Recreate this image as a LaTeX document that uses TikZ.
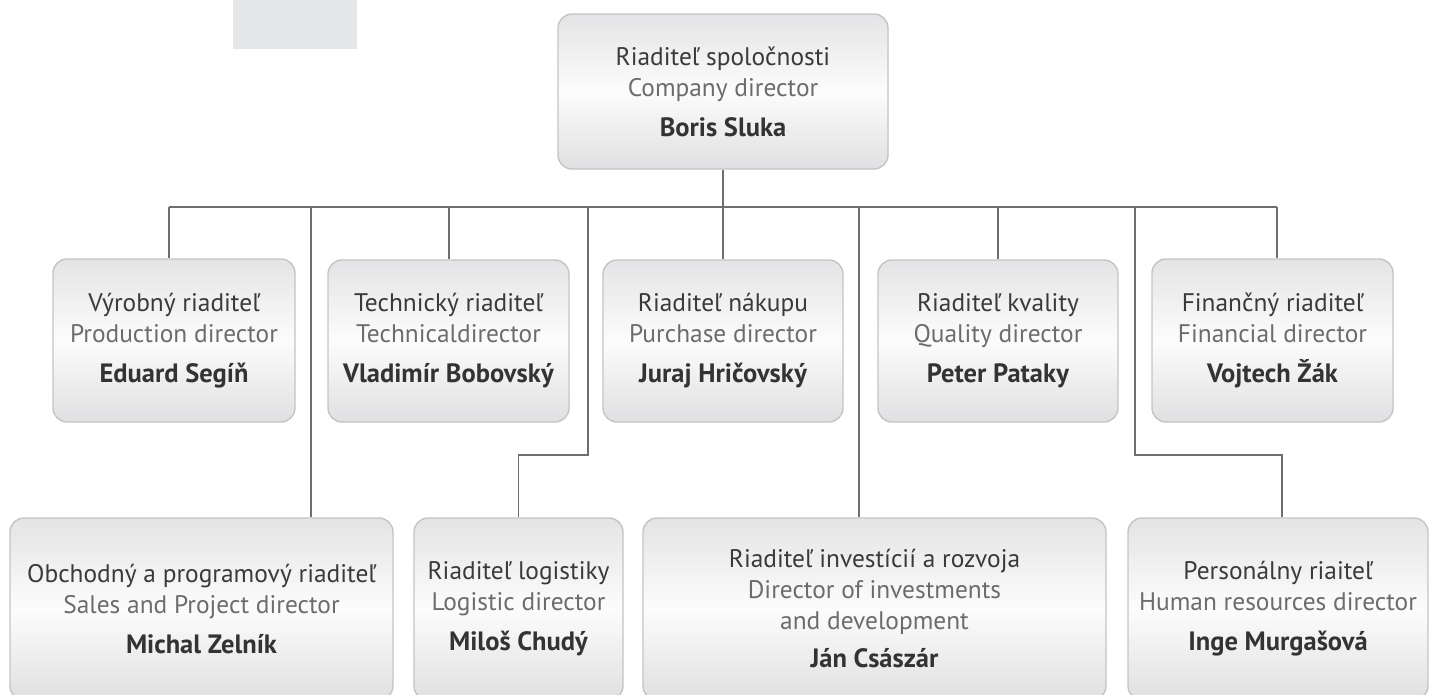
\documentclass[tikz,border=0pt]{standalone}
\usepackage{fontspec}
\setmainfont{PT Sans}
\definecolor{boxborder}{HTML}{C4C4C6}
\definecolor{boxtop}{HTML}{E4E4E6}
\definecolor{boxbot}{HTML}{E0E0E2}
\definecolor{boxmid}{HTML}{FCFCFC}
\definecolor{conn}{HTML}{6E6E70}
\definecolor{tone}{HTML}{3A3A3C}
\definecolor{ttwo}{HTML}{6C6C6E}
\definecolor{tthree}{HTML}{333333}
\definecolor{tabgray}{HTML}{E5E6E8}
\newcommand{\namefont}{\fontsize{26.5}{31}\selectfont\bfseries}
\newcommand{\orgtext}[3]{{\color{tone}#1}\\{\color{ttwo}#2}\\[9pt]{\namefont\color{tthree}#3}}
\tikzset{
  orgbox/.style={draw=boxborder, line width=1.4pt, rounded corners=14pt,
    top color=boxtop, bottom color=boxbot, middle color=boxmid,
    align=center, inner sep=0pt, font=\fontsize{25.4}{31}\selectfont},
  orgline/.style={draw=conn, line width=1.4pt},
}
\begin{document}
\begin{tikzpicture}[x=1pt,y=-1pt]
\useasboundingbox (0,0) rectangle (1429,694);
\clip (0,0) rectangle (1429,694);
\node[fill=tabgray, draw=none, minimum width=124pt, minimum height=49pt, inner sep=0pt] (tab) at (295,24.5) {};

\node[orgbox, minimum width=330pt, minimum height=155pt] (top) at (723,91.5)
  {\orgtext{Riaditeľ spoločnosti}{Company director}{Boris Sluka}};

\node[orgbox, minimum width=242pt, minimum height=163pt] (ra) at (174,340.5)
  {\orgtext{Výrobný riaditeľ}{Production director}{Eduard Segíň}};
\node[orgbox, minimum width=241pt, minimum height=162pt] (rb) at (448.5,341)
  {\orgtext{Technický riaditeľ}{Technicaldirector}{Vladimír Bobovský}};
\node[orgbox, minimum width=240pt, minimum height=162pt] (rc) at (723,341)
  {\orgtext{Riaditeľ nákupu}{Purchase director}{Juraj Hričovský}};
\node[orgbox, minimum width=240pt, minimum height=162pt] (rd) at (998,341)
  {\orgtext{Riaditeľ kvality}{Quality director}{Peter Pataky}};
\node[orgbox, minimum width=241pt, minimum height=163pt] (re) at (1272.5,340.5)
  {\orgtext{Finančný riaditeľ}{Financial director}{Vojtech Žák}};

\node[orgbox, minimum width=383pt, minimum height=182pt] (sa) at (201.5,609)
  {\orgtext{Obchodný a programový riaditeľ}{Sales and Project director}{Michal Zelník}};
\node[orgbox, minimum width=209pt, minimum height=182pt] (sb) at (518.5,609)
  {\orgtext{Riaditeľ logistiky}{Logistic director}{Miloš Chudý}};
\node[orgbox, minimum width=463pt, minimum height=182pt] (sc) at (874.5,609)
  {{\color{tone}Riaditeľ investícií a rozvoja}\\{\color{ttwo}Director of investments}\\{\color{ttwo}and development}\\[7pt]{\namefont\color{tthree}Ján Császár}};
\node[orgbox, minimum width=300pt, minimum height=182pt] (sd) at (1278,609)
  {\orgtext{Personálny riaiteľ}{Human resources director}{Inge Murgašová}};

\coordinate (c1) at (169,207);
\coordinate (c2) at (311,207);
\coordinate (c3) at (449,207);
\coordinate (c4) at (588,207);
\coordinate (c5) at (723,207);
\coordinate (c6) at (859,207);
\coordinate (c7) at (998,207);
\coordinate (c8) at (1135,207);
\coordinate (c9) at (1277,207);

\draw[orgline] (c1) -- (c9);
\draw[orgline] (top.south) -- (c5);
\draw[orgline] (c1) -- (c1 |- ra.north);
\draw[orgline] (c2) -- (c2 |- sa.north);
\draw[orgline] (c3) -- (c3 |- rb.north);
\draw[orgline] (c4) -- ++(0,248) -| (sb.north);
\draw[orgline] (c5) -- (c5 |- rc.north);
\draw[orgline] (c6) -- (c6 |- sc.north);
\draw[orgline] (c7) -- (c7 |- rd.north);
\draw[orgline] (c8) -- ++(0,248) -| ([xshift=4pt]sd.north);
\draw[orgline] (c9) -- (c9 |- re.north);
\end{tikzpicture}
\end{document}
